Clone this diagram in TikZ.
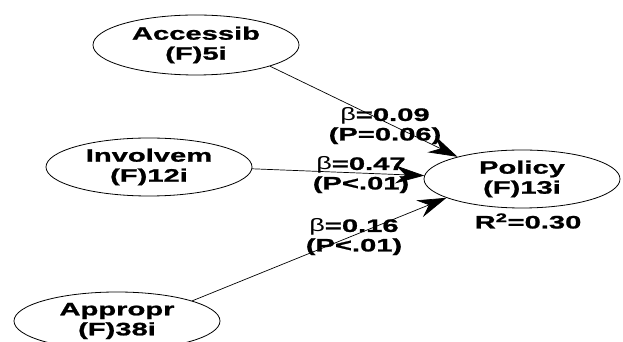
\documentclass[tikz,border=0pt]{standalone}
\usepackage{fontspec}
\setmainfont{Liberation Sans}
\newfontfamily\lblfont{Liberation Sans Bold}[FakeStretch=1.62,FakeBold=1.2]
\newfontfamily\betafont{Liberation Sans}[FakeStretch=1.5]
\usetikzlibrary{shapes.geometric,arrows.meta}
\begin{document}
\begin{tikzpicture}[x=1pt,y=1pt,
  latent/.style={ellipse,draw,line width=0.8pt,inner sep=0pt,minimum width=206pt,minimum height=60pt,align=center,font=\lblfont\fontsize{18}{20}\selectfont},
  pathline/.style={draw,line width=0.7pt,-{Stealth[length=29pt,width=18pt,inset=10pt]}},
  coef/.style={align=center,inner sep=0pt,font=\lblfont\fontsize{18}{19.5}\selectfont}]
\clip (0,0) rectangle (623,342);
\fill[white] (0,0) rectangle (623,342);
\node[latent] (A) at (196,297) {Accessib\\(F)5i};
\node[latent,minimum height=58pt] (I) at (149,175) {Involvem\\(F)12i};
\node[latent,minimum width=196pt,minimum height=58pt] (P) at (522,163) {Policy\\(F)13i};
\node[latent,minimum height=58pt] (R) at (117,21) {Appropr\\(F)38i};
\node[coef] (r2) at (528,121) {R\textsuperscript{2}=0.30};
\draw[pathline] (A.-16) -- (P.161);
\draw[pathline] (I.-1) -- (P.178.8);
\draw[pathline] (R.15) -- (P.-166);
\node[coef] (c1) at (385,216) {{\betafont β}=0.09\\(P=0.06)};
\node[coef] (c2) at (361,167) {{\betafont β}=0.47\\(P<.01)};
\node[coef] (c3) at (354,105) {{\betafont β}=0.16\\(P<.01)};
\end{tikzpicture}
\end{document}
